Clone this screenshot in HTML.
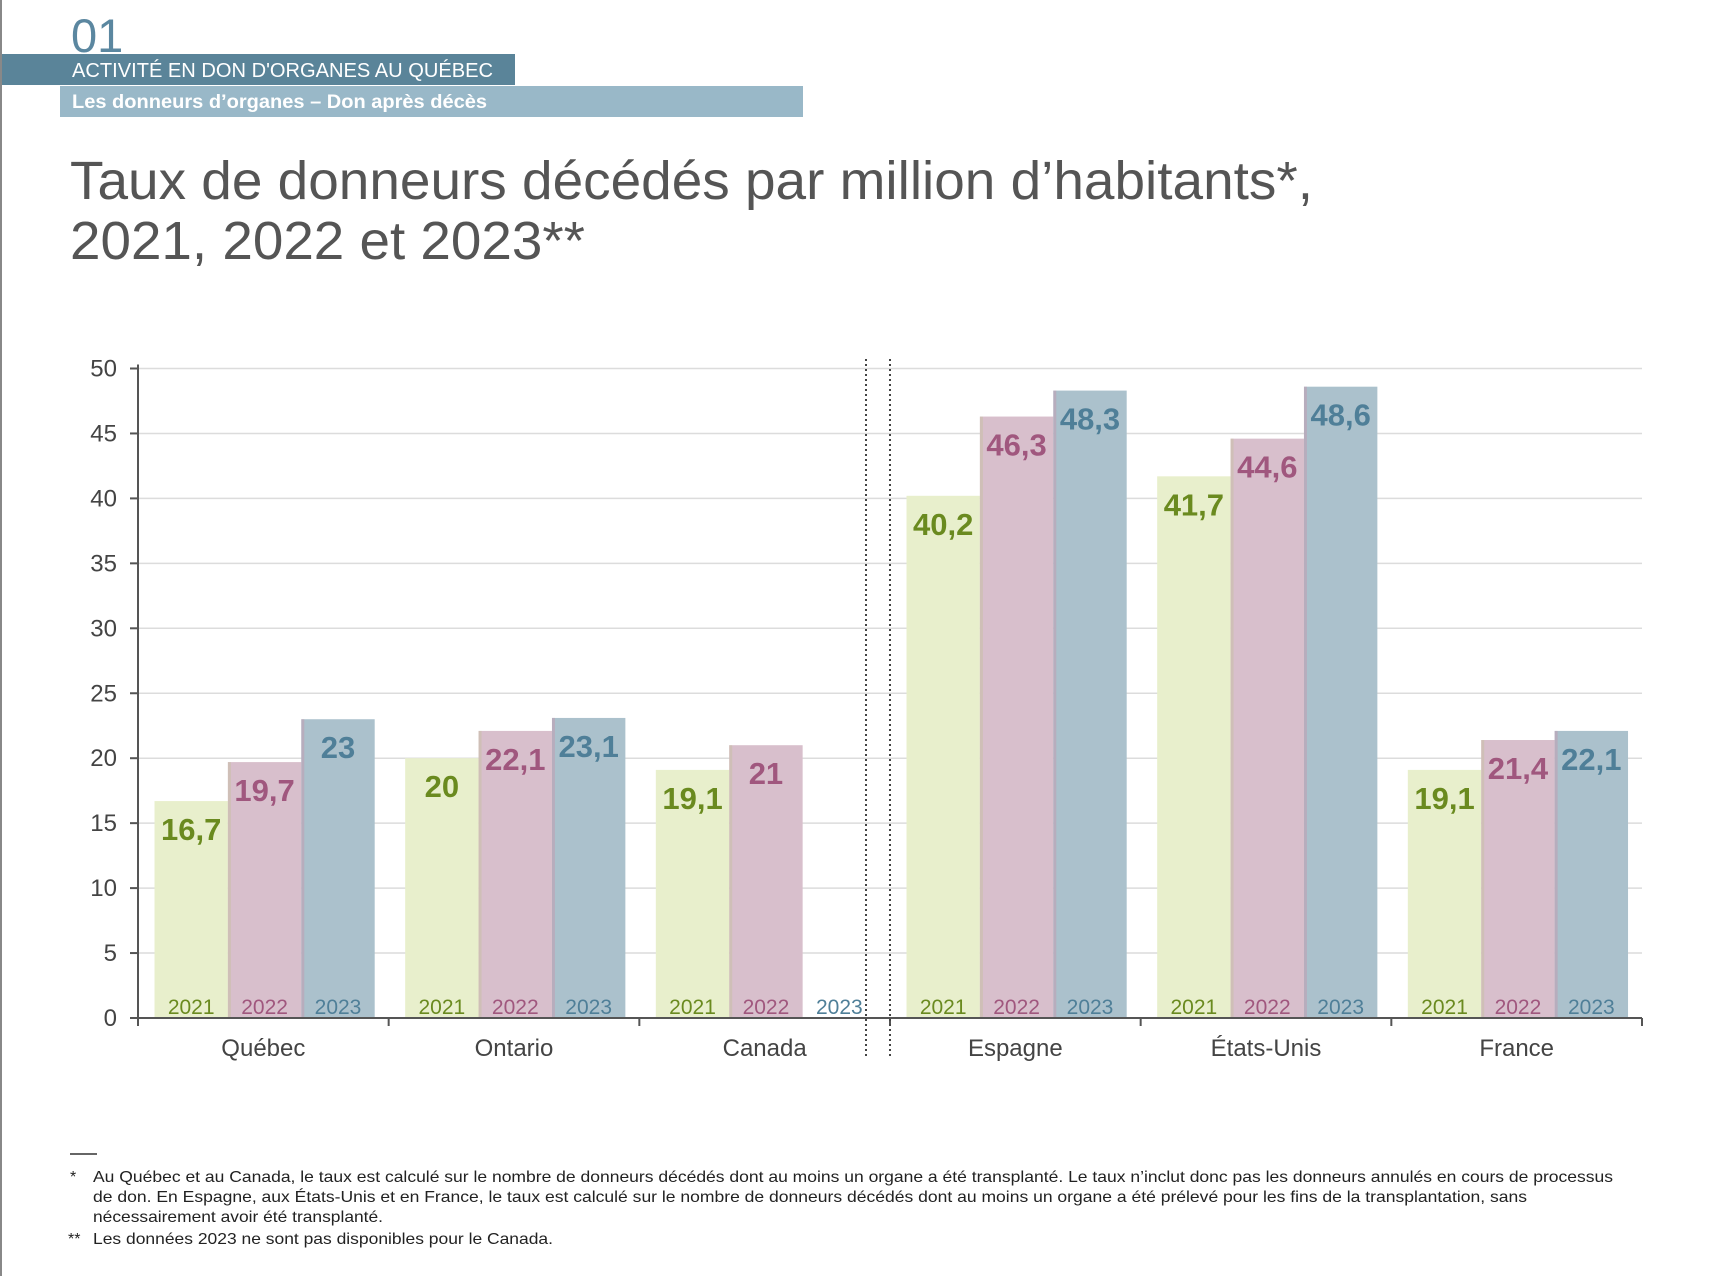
<!DOCTYPE html>
<html><head><meta charset="utf-8">
<style>
html,body{margin:0;padding:0;background:#fff;}
svg{display:block;font-family:"Liberation Sans",Arial,sans-serif;}
</style></head>
<body>
<svg id="chart" width="1730" height="1276" viewBox="0 0 1730 1276" xmlns="http://www.w3.org/2000/svg">
  <rect x="0" y="0" width="2" height="1276" fill="#888"/>
  <text x="71" y="52" font-size="47" fill="#5b87a0">01</text>
  <rect x="2" y="54" width="513" height="31" fill="#5a8499"/>
  <text x="72" y="77" font-size="20" fill="#fff" textLength="421" lengthAdjust="spacingAndGlyphs">ACTIVITÉ EN DON D'ORGANES AU QUÉBEC</text>
  <rect x="60" y="86" width="743" height="31" fill="#99b8c8"/>
  <text x="72" y="108" font-size="19" font-weight="bold" fill="#fff" textLength="415" lengthAdjust="spacingAndGlyphs">Les donneurs d’organes – Don après décès</text>
  <text x="70" y="199" font-size="54" fill="#555" textLength="1243" lengthAdjust="spacingAndGlyphs">Taux de donneurs décédés par million d’habitants*,</text>
  <text x="70" y="259" font-size="54" fill="#555" textLength="515" lengthAdjust="spacingAndGlyphs">2021, 2022 et 2023**</text>
  <g id="grid"></g>
  <g id="bars"></g>
  <g id="axes"></g>
  <line x1="70" y1="1154" x2="97" y2="1154" stroke="#333" stroke-width="1.5"/>
  <g font-size="16" fill="#222">
    <text x="70" y="1182">*</text>
    <text x="93" y="1182" textLength="1520" lengthAdjust="spacingAndGlyphs">Au Québec et au Canada, le taux est calculé sur le nombre de donneurs décédés dont au moins un organe a été transplanté. Le taux n’inclut donc pas les donneurs annulés en cours de processus</text>
    <text x="93" y="1202" textLength="1434" lengthAdjust="spacingAndGlyphs">de don. En Espagne, aux États-Unis et en France, le taux est calculé sur le nombre de donneurs décédés dont au moins un organe a été prélevé pour les fins de la transplantation, sans</text>
    <text x="93" y="1222" textLength="290" lengthAdjust="spacingAndGlyphs">nécessairement avoir été transplanté.</text>
    <text x="68" y="1244">**</text>
    <text x="93" y="1244" textLength="460" lengthAdjust="spacingAndGlyphs">Les données 2023 ne sont pas disponibles pour le Canada.</text>
  </g>
</svg>
<script>
const categories = ["Québec","Ontario","Canada","Espagne","États-Unis","France"];
const years = ["2021","2022","2023"];
const values2021 = [16.7, 20, 19.1, 40.2, 41.7, 19.1];
const values2022 = [19.7, 22.1, 21, 46.3, 44.6, 21.4];
const values2023 = [23, 23.1, null, 48.3, 48.6, 22.1];
const yTicks = [0,5,10,15,20,25,30,35,40,45,50];

const NS = "http://www.w3.org/2000/svg";
const X0 = 138, X1 = 1642, Y0 = 1018, Y50 = 368.5;
const groupW = (X1 - X0) / categories.length;
const barW = 73.4, barOff = 16.5;
const yScale = v => Y0 - (v / 50) * (Y0 - Y50);
const xBar = (ci, si) => X0 + ci * groupW + barOff + si * barW;
const fills = ["#e8efcc","#d8bfcc","#abc1cc"];
const edge = ["#c9c0a8","#c0a0b2","#8fa6b4"];
const labelCols = ["#6a8a1f","#a0577e","#4f7f98"];
const series = [values2021, values2022, values2023];
function mk(tag, attrs, parent){const e=document.createElementNS(NS,tag);for(const k in attrs)e.setAttribute(k,attrs[k]);parent.appendChild(e);return e;}
const grid = document.getElementById('grid'), bars = document.getElementById('bars'), axes = document.getElementById('axes');

yTicks.forEach(t=>{
  const y=yScale(t);
  if(t>0){const g=mk('line',{x1:X0,x2:X1,y1:y,y2:y,stroke:'#dcdcdc','stroke-width':1.5},grid);
  
  }
  const tk=mk('line',{x1:X0-8,x2:X0,y1:y,y2:y,stroke:'#555','stroke-width':2},axes);
  
  
  const lb=mk('text',{x:X0-21,y:y+8,'font-size':24,fill:'#444','text-anchor':'end'},axes);
  lb.textContent=t;
  
  
});

categories.forEach((c,ci)=>{
  series.forEach((vals,si)=>{
    const v=vals[ci];
    const x=xBar(ci,si);
    if(v!==null){
      const y=yScale(v);
      const r=mk('rect',{x:x,y:y,width:barW,height:Y0-y,fill:fills[si]},bars);
      
      
      if(si>0){const e=mk('rect',{x:x,y:y,width:3,height:Y0-y,fill:edge[si-1],opacity:0.6},bars);
      
      }
      const vl=mk('text',{x:x+barW/2,y:y+39,'font-size':31,'font-weight':'bold',fill:labelCols[si],'text-anchor':'middle'},bars);
      vl.textContent=String(v).replace('.',',');
      
      
    }
    const yl=mk('text',{x:x+barW/2,y:Y0-4,'font-size':21,fill:labelCols[si],'text-anchor':'middle'},bars);
    yl.textContent=years[si];
    
    
  });
  const cl=mk('text',{x:X0+ci*groupW+groupW/2,y:1056,'font-size':24,fill:'#444','text-anchor':'middle'},axes);
  cl.textContent=c;
  
  
});
for(let i=0;i<=categories.length;i++){
  const x=X0+i*groupW;
  const t=mk('line',{x1:x,x2:x,y1:Y0,y2:Y0+8,stroke:'#555','stroke-width':2},axes);
  
  
}
const ya=mk('line',{x1:X0,x2:X0,y1:Y50-4,y2:Y0+8,stroke:'#555','stroke-width':2},axes);


const xa=mk('line',{x1:X0,x2:X1,y1:Y0,y2:Y0,stroke:'#555','stroke-width':2},axes);


[866,890].forEach(x=>{
  const d=mk('line',{x1:x,x2:x,y1:359,y2:1057,stroke:'#444','stroke-width':2,'stroke-dasharray':'2,3'},axes);
  
  
});
</script>
</body></html>
